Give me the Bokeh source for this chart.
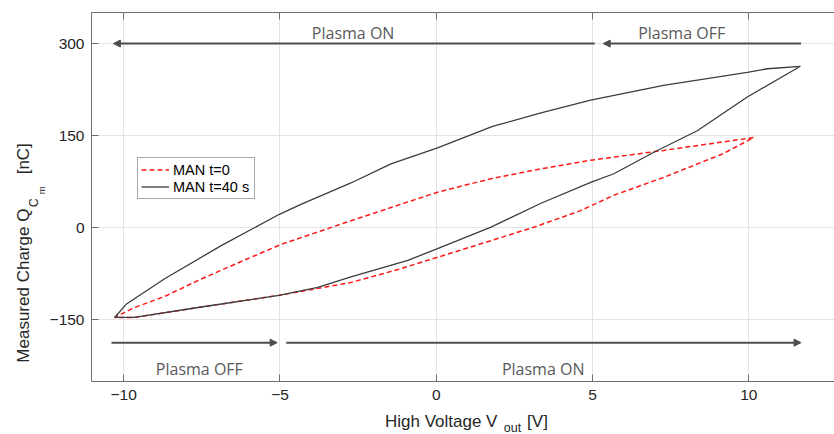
import math
from bokeh.plotting import figure
from bokeh.layouts import row, column
from bokeh.models import (FixedTicker, LinearAxis, Label, Arrow, NormalHead,
                          CustomJSTickFormatter, Range1d, Legend, LegendItem)
from bokeh.embed import file_html
from bokeh.resources import INLINE

# ---- data ----
# MAN t=40 s : upper branch (min -> max) and lower branch (min -> max)
black_up_x = [-10.29, -9.91, -8.69, -6.88, -5.02, -4.33, -2.73, -1.45, 0.04, 1.80, 3.35, 4.94, 7.27, 9.95, 10.59, 11.65]
black_up_y = [-146, -124, -83, -29, 22, 38, 73, 104, 130, 165, 187, 208, 232, 253, 259, 263]
black_lo_x = [-10.29, -9.66, -7.52, -5.03, -3.79, -2.73, -0.91, 0.04, 1.75, 3.35, 4.94, 5.68, 6.96, 8.35, 9.95, 11.65]
black_lo_y = [-146, -146, -129, -110, -97, -80, -53, -34, 1, 40, 74, 88, 123, 158, 213, 263]

# MAN t=0
red_up_x = [-10.29, -9.66, -8.7, -7.5, -6.2, -4.96, -3.05, -1.45, 0.04, 1.75, 3.35, 4.94, 7.27, 10.15]
red_up_y = [-146, -130, -112, -83, -54, -27, 6, 33, 58, 80, 96, 110, 126, 147]
red_lo_x = [-10.29, -9.66, -7.52, -5.03, -2.73, -1.23, 0.04, 1.75, 3.12, 4.62, 5.68, 7.27, 9.19, 10.15]
red_lo_y = [-146, -146, -129, -110, -89, -68, -48, -21, 1, 28, 53, 82, 121, 147]

x_ticks = [-10, -5, 0, 5, 10]
y_ticks = [-150, 0, 150, 300]

# plasma-state arrows: (x_start, x_end, y)
top_arrows = [(11.67, 5.34, 300), (5.07, -10.33, 300)]
bottom_arrows = [(-10.39, -5.09, -187), (-4.80, 11.67, -187)]
plasma_labels = [("Plasma ON", -2.66, 317.6), ("Plasma OFF", 7.85, 317.6),
                 ("Plasma OFF", -7.58, -229.2), ("Plasma ON", 3.42, -229.2)]

# ---- styling ----
FRAME_COL = "#6e6e6e"
TEXT_COL = "#262626"
TICK_FONT = "Liberation Sans"

YW = 46          # width of the strip holding the y title
MAIN_H = 410
XH = 24          # height of the strip holding the x title
TOTAL_W = 834

# ---- main figure ----
p = figure(width=TOTAL_W - YW, height=MAIN_H, output_backend="svg", toolbar_location=None,
           x_range=Range1d(-11.03, 12.74), y_range=Range1d(-250.3, 350.6),
           min_border_left=44, min_border_right=0, min_border_top=12, min_border_bottom=29,
           background_fill_color="white", border_fill_color="white")
p.outline_line_color = None

minus_fmt = CustomJSTickFormatter(code="return tick < 0 ? '\u2212' + Math.abs(tick) : String(tick);")

for ax in p.xaxis:
    ax.ticker = FixedTicker(ticks=x_ticks)
    ax.formatter = minus_fmt
for ax in p.yaxis:
    ax.ticker = FixedTicker(ticks=y_ticks)
    ax.formatter = minus_fmt

for ax in list(p.xaxis) + list(p.yaxis):
    ax.axis_line_color = FRAME_COL
    ax.axis_line_width = 1
    ax.major_tick_in = 7
    ax.major_tick_out = 0
    ax.major_tick_line_color = FRAME_COL
    ax.minor_tick_line_color = None
    ax.major_label_text_font = TICK_FONT
    ax.major_label_text_font_size = "15.5px"
    ax.major_label_text_color = TEXT_COL
    ax.axis_label = None
p.xaxis.major_label_standoff = 8
p.yaxis.major_label_standoff = 7

top_axis = LinearAxis(ticker=FixedTicker(ticks=x_ticks), axis_line_color=FRAME_COL,
                      major_tick_in=7, major_tick_out=0, major_tick_line_color=FRAME_COL,
                      minor_tick_line_color=None,
                      formatter=CustomJSTickFormatter(code="return '';"),
                      major_label_text_font_size="1px", major_label_standoff=0)
p.add_layout(top_axis, "above")

p.xgrid.ticker = FixedTicker(ticks=x_ticks)
p.ygrid.ticker = FixedTicker(ticks=y_ticks)
for g in (p.xgrid, p.ygrid):
    g.grid_line_color = "#e3e3e3"
    g.grid_line_width = 1

# ---- curves ----
red_x = list(reversed(red_up_x)) + red_lo_x
red_y = list(reversed(red_up_y)) + red_lo_y
blk_x = list(reversed(black_up_x)) + black_lo_x
blk_y = list(reversed(black_up_y)) + black_lo_y

r_red = p.line(red_x, red_y, line_color="#ff1a1a", line_width=1.5, line_dash="5 3")
r_blk = p.line(blk_x, blk_y, line_color="#3c3c3c", line_width=1.3)

legend = Legend(items=[LegendItem(label="MAN t=0", renderers=[r_red]),
                       LegendItem(label="MAN t=40 s", renderers=[r_blk])],
                location=(46, 182), padding=3, margin=0, spacing=0,
                glyph_width=28, glyph_height=17, label_height=17, label_width=78,
                label_standoff=4, label_text_font=TICK_FONT, label_text_font_size="14.5px",
                label_text_color="black", border_line_color="#555555", border_line_width=1,
                background_fill_color="white", background_fill_alpha=1)
p.add_layout(legend, "center")

# ---- arrows & plasma labels ----
ARROW_COL = "#4d4d4d"
for xs, xe, yy in top_arrows + bottom_arrows:
    p.add_layout(Arrow(x_start=xs, y_start=yy, x_end=xe, y_end=yy,
                       line_color=ARROW_COL, line_width=2,
                       end=NormalHead(size=7, fill_color=ARROW_COL, line_color=ARROW_COL)))

for txt, xx, yy in plasma_labels:
    p.add_layout(Label(x=xx, y=yy, text=txt, text_align="center", text_baseline="alphabetic",
                       text_font="Open Sans", text_font_size="16px", text_color="#595959"))


# ---- strips carrying the axis titles (with sub-scripts) ----
def strip(w, h):
    f = figure(width=w, height=h, output_backend="svg", toolbar_location=None,
               x_axis_location=None, y_axis_location=None,
               x_range=Range1d(0, w), y_range=Range1d(0, h), min_border=0,
               background_fill_color="white", border_fill_color="white")
    f.grid.visible = False
    f.outline_line_color = None
    return f


def lab(f, text, x, y, size, angle=0.0):
    # (x, y) is the centre of the text piece, in strip pixels from bottom-left
    f.add_layout(Label(x=x, y=y, text=text, text_font=TICK_FONT, text_font_size=size,
                       text_color=TEXT_COL, text_align="center", text_baseline="middle",
                       angle=angle))


# y title (page y measured from the top of the picture)
ys = strip(YW, MAIN_H)
lab(ys, "Measured Charge Q", 22.6, MAIN_H - 303.5, "17px", math.pi / 2)
lab(ys, "C", 33.0, MAIN_H - 211.5, "12.5px", math.pi / 2)
lab(ys, "m", 40.8, MAIN_H - 197.5, "9.5px", math.pi / 2)
lab(ys, "[nC]", 22.6, MAIN_H - 162.5, "17px", math.pi / 2)

# x title
XBASE = MAIN_H + XH
xs_ = strip(TOTAL_W, XH)
lab(xs_, "High Voltage V", 440.7, XBASE - 421.1, "17px")
lab(xs_, "out", 512, XBASE - 427.7, "12.5px")
lab(xs_, "[V]", 537, XBASE - 421.1, "17px")

layout = column(row(ys, p, spacing=0), xs_, spacing=0)

open("out.html", "w").write(file_html(layout, INLINE))
